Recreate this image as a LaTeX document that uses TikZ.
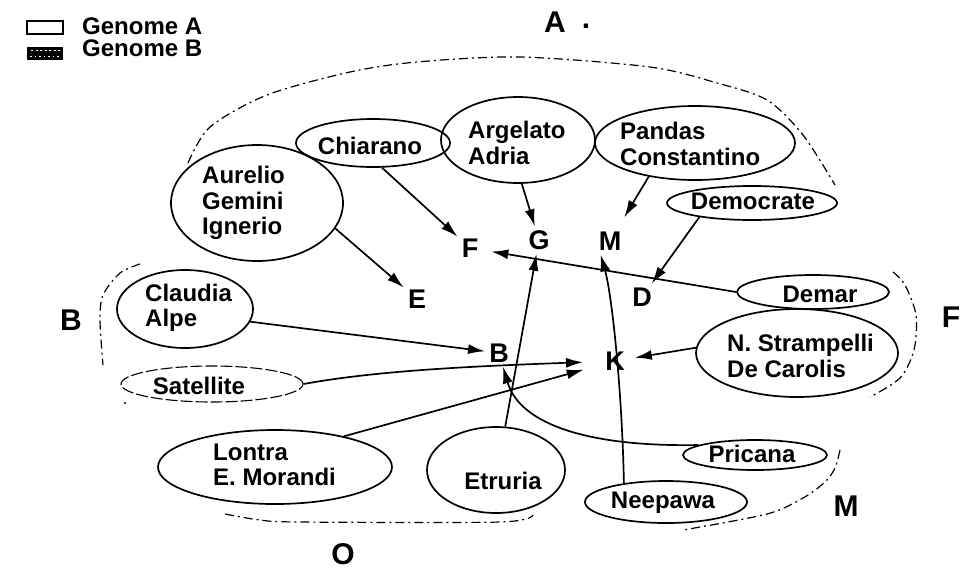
\documentclass[tikz,border=0pt]{standalone}
\usepackage{fontspec}
\setmainfont{Liberation Sans}
\usetikzlibrary{arrows.meta,shapes.geometric}
\begin{document}
\begin{tikzpicture}[x=1pt,y=-1pt,
  ell/.style={draw, ellipse, line width=1.7pt, inner sep=0pt},
  satline/.style={line width=1.1pt, dash pattern=on 12pt off 3pt},
  lbl/.style={font=\bfseries\fontsize{24}{25.5}\selectfont, align=left, inner sep=0pt},
  ltr/.style={font=\bfseries\fontsize{27}{30}\selectfont, inner sep=4pt},
  grp/.style={font=\bfseries\fontsize{30}{32}\selectfont, inner sep=0pt},
  arr/.style={line width=1.7pt, -{Latex[length=17pt,width=10pt]}},
  bound/.style={line width=1.2pt, dash pattern=on 9pt off 4pt on 2pt off 4pt}]
\useasboundingbox (0,0) rectangle (965,571);

% legend
\node[draw, line width=1.6pt, minimum width=36pt, minimum height=13pt, inner sep=0pt] (legA) at (45,27.5) {};
\node[fill=black, minimum width=36pt, minimum height=13pt, inner sep=0pt] (legB) at (45,53.5) {};
\draw[white, line width=1pt, dash pattern=on 2pt off 2.5pt] (31,50.5) -- (60,50.5);
\draw[white, line width=1pt, dash pattern=on 1.5pt off 3pt] (30,56) -- (61,56);
\node[lbl, anchor=west] (legAt) at (82,26) {Genome A};
\node[lbl, anchor=west] (legBt) at (82,48) {Genome B};

% group labels
\node[grp] (gA) at (555,22) {A};
\node[grp] (gAdot) at (586,26) {.};
\node[grp] (gB) at (71,320) {B};
\node[grp] (gF) at (951,317) {F};
\node[grp] (gM) at (846,506) {M};
\node[grp] (gO) at (343,554) {O};

% group boundaries
\draw[bound] plot[smooth] coordinates {(188,163) (210,127) (267,95) (350,72) (417,62) (520,57) (650,67) (717,83) (767,100) (803,135) (835,185)};
\draw[bound] plot[smooth] coordinates {(140,264) (120,273) (103,295) (100,320) (103,365)};
\fill (125,403) circle (1.2pt);
\draw[bound] plot[smooth] coordinates {(225,514) (260,520) (300,522) (500,522) (533,515)};
\draw[bound] plot[smooth] coordinates {(893,272) (905,285) (916,315) (914,350) (900,378) (870,397)};
\draw[bound] plot[smooth] coordinates {(840,450) (835,468) (825,482) (803,498) (767,514) (683,530)};

% ellipses
\node[ell, minimum width=172pt, minimum height=116pt] (aur) at (257,203) {};
\node[ell, minimum width=154pt, minimum height=48pt] (chi) at (373,143) {};
\node[ell, minimum width=154pt, minimum height=86pt] (arg) at (518,140) {};
\node[ell, minimum width=200pt, minimum height=74pt] (pan) at (695,143) {};
\node[ell, minimum width=170pt, minimum height=34pt] (dem) at (752,203) {};
\node[ell, minimum width=152pt, minimum height=34pt] (dmr) at (813,292) {};
\node[ell, minimum width=202pt, minimum height=88pt] (str) at (797,353) {};
\node[ell, minimum width=136pt, minimum height=78pt] (cla) at (185,309) {};
\node[ell, satline, minimum width=182pt, minimum height=36pt] (sat) at (212,384) {};
\node[ell, minimum width=234pt, minimum height=74pt] (lon) at (275,467) {};
\node[ell, minimum width=138pt, minimum height=86pt] (etr) at (496,470) {};
\node[ell, minimum width=144pt, minimum height=30pt] (pri) at (755,455) {};
\node[ell, minimum width=162pt, minimum height=42pt] (nee) at (666,502) {};

% ellipse texts
\node[lbl, anchor=west] (aur-t) at (202,203) {Aurelio\\Gemini\\Ignerio};
\node[lbl] (chi-t) at (370,146) {Chiarano};
\node[lbl, anchor=west] (arg-t) at (468,143) {Argelato\\Adria};
\node[lbl, anchor=west] (pan-t) at (620,144) {Pandas\\Constantino};
\node[lbl] (dem-t) at (753,201) {Democrate};
\node[lbl] (dmr-t) at (820,294) {Demar};
\node[lbl, anchor=west] (str-t) at (727,356) {N. Strampelli\\De Carolis};
\node[lbl, anchor=west] (cla-t) at (145,308) {Claudia\\Alpe};
\node[lbl] (sat-t) at (199,386) {Satellite};
\node[lbl, anchor=west] (lon-t) at (213,465) {Lontra\\E. Morandi};
\node[lbl] (etr-t) at (503,481) {Etruria};
\node[lbl] (pri-t) at (752,454) {Pricana};
\node[lbl] (nee-t) at (663,503) {Neepawa};

% letters
\node[ltr] (F) at (470,248) {F};
\node[ltr] (G) at (539,240) {G};
\node[ltr] (M) at (610,241) {M};
\node[ltr] (E) at (417,299) {E};
\node[ltr] (D) at (642,297) {D};
\node[ltr] (B) at (499,353) {B};
\node[ltr] (K) at (615,361) {K};

% connectors
\draw[arr] (chi.-70) -- (F);
\draw[arr] (arg.-85) -- (G);
\draw[arr, shorten >=12pt] (pan.216) -- (M);
\draw[arr] (aur.-18) -- (E);
\draw[arr] (dem.195) -- (D);
\draw[arr, shorten >=9pt] (dmr.west) -- (F);
\draw[arr] (etr.78) -- (G);
\draw[arr] (nee.156) .. controls (622,390) and (612,295) .. (M.235);
\draw[arr] (cla.-11) -- (B);
\draw[arr, shorten >=18pt] (sat.east) .. controls (380,370) and (480,366) .. (K);
\draw[arr, shorten >=18pt] (lon.24) -- (K);
\draw[arr, shorten >=6pt] (str.177) -- (K);
\draw[arr] (pri.170) .. controls (590,447) and (520,425) .. (B);
\end{tikzpicture}
\end{document}
